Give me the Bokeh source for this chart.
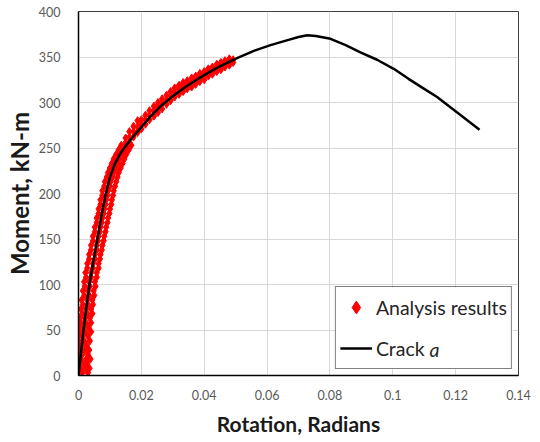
from bokeh.plotting import figure
from bokeh.models import Range1d, FixedTicker, Legend, LegendItem, BoxAnnotation
from bokeh.core.properties import value
from bokeh.embed import file_html
from bokeh.resources import INLINE

# Crack a curve (rotation in radians, moment in kN-m)
curve_rot = [0, 0.0008, 0.0016, 0.0025, 0.0035, 0.0047, 0.006, 0.0072, 0.0085, 0.0100,
             0.0115, 0.0130, 0.0143, 0.0170, 0.0200, 0.0230, 0.0265, 0.0300, 0.0340, 0.0385,
             0.0440, 0.0506, 0.0560, 0.0611, 0.0660, 0.0700, 0.0728, 0.0755, 0.0802, 0.0850,
             0.0897, 0.0950, 0.1003, 0.1050, 0.1100, 0.1141, 0.1205, 0.1276]
curve_mom = [0, 25, 50, 75, 100, 125, 150, 174, 197, 218,
             232, 242, 249, 261, 273, 285, 297, 307, 317, 327,
             338, 349, 357, 363, 368, 372, 374, 373, 370, 363,
             355, 347, 337, 326, 315, 306, 289, 270]

# Analysis results (scatter)
pts_rot = [
    -0.0002, 0.0012, 0.0030, 0.0005, 0.0022, 0.0035, 0.0000, 0.0015, 0.0028, 0.0008,
    0.0025, 0.0038, -0.0003, 0.0012, 0.0030, 0.0004, 0.0020, 0.0034, -0.0004, 0.0010,
    0.0026, 0.0002, 0.0018, 0.0036, -0.0002, 0.0012, 0.0030, 0.0006, 0.0022, 0.0040,
    0.0000, 0.0016, 0.0032, 0.0008, 0.0024, 0.0040, 0.0004, 0.0020, 0.0036, 0.0012,
    0.0028, 0.0044, 0.0008, 0.0024, 0.0040, 0.0014, 0.0030, 0.0046, 0.0010, 0.0028,
    0.0044, 0.0018, 0.0034, 0.0050, 0.0014, 0.0030, 0.0048, 0.0020, 0.0036, 0.0054,
    0.0018, 0.0034, 0.0052, 0.0024, 0.0040, 0.0058, 0.0022, 0.0040, 0.0058, 0.0028,
    0.0046, 0.0064, 0.0028, 0.0046, 0.0064, 0.0034, 0.0052, 0.0068, 0.0034, 0.0052,
    0.0070, 0.0040, 0.0058, 0.0074, 0.0040, 0.0058, 0.0076, 0.0046, 0.0062, 0.0080,
    0.0046, 0.0064, 0.0082, 0.0052, 0.0068, 0.0086, 0.0052, 0.0070, 0.0088, 0.0058,
    0.0074, 0.0092, 0.0058, 0.0076, 0.0094, 0.0064, 0.0080, 0.0098, 0.0064, 0.0082,
    0.0100, 0.0070, 0.0086, 0.0104, 0.0070, 0.0088, 0.0106, 0.0076, 0.0092, 0.0110,
    0.0076, 0.0094, 0.0112, 0.0082, 0.0100, 0.0116, 0.0084, 0.0102, 0.0120, 0.0090,
    0.0108, 0.0124, 0.0094, 0.0112, 0.0128, 0.0100, 0.0118, 0.0134, 0.0106, 0.0124,
    0.0140, 0.0112, 0.0130, 0.0146, 0.0120, 0.0138, 0.0152, 0.0128, 0.0146, 0.0160,
    0.0136, 0.0154, 0.0168,
    0.0150, 0.0150, 0.0150, 0.0162, 0.0162, 0.0162, 0.0175, 0.0175, 0.0175, 0.0188,
    0.0188, 0.0188, 0.0200, 0.0200, 0.0200, 0.0213, 0.0213, 0.0213, 0.0226, 0.0226,
    0.0226, 0.0240, 0.0240, 0.0240, 0.0253, 0.0253, 0.0253, 0.0266, 0.0266, 0.0266,
    0.0280, 0.0280, 0.0280, 0.0293, 0.0293, 0.0293, 0.0306, 0.0306, 0.0306, 0.0320,
    0.0320, 0.0320, 0.0333, 0.0333, 0.0333, 0.0346, 0.0346, 0.0346, 0.0360, 0.0360,
    0.0360, 0.0373, 0.0373, 0.0373, 0.0386, 0.0386, 0.0386, 0.0400, 0.0400, 0.0400,
    0.0413, 0.0413, 0.0413, 0.0426, 0.0426, 0.0426, 0.0440, 0.0440, 0.0440, 0.0453,
    0.0453, 0.0453, 0.0466, 0.0466, 0.0466, 0.0480, 0.0480, 0.0480, 0.0492, 0.0492]
pts_mom = [
    3, 3, 3, 8, 8, 8, 13, 13, 13, 18,
    18, 18, 23, 23, 23, 28, 28, 28, 33, 33,
    33, 38, 38, 38, 43, 43, 43, 48, 48, 48,
    53, 53, 53, 58, 58, 58, 63, 63, 63, 68,
    68, 68, 73, 73, 73, 78, 78, 78, 83, 83,
    83, 88, 88, 88, 93, 93, 93, 98, 98, 98,
    103, 103, 103, 108, 108, 108, 113, 113, 113, 118,
    118, 118, 123, 123, 123, 128, 128, 128, 133, 133,
    133, 138, 138, 138, 143, 143, 143, 148, 148, 148,
    153, 153, 153, 158, 158, 158, 163, 163, 163, 168,
    168, 168, 173, 173, 173, 178, 178, 178, 183, 183,
    183, 188, 188, 188, 193, 193, 193, 198, 198, 198,
    203, 203, 203, 208, 208, 208, 213, 213, 213, 218,
    218, 218, 223, 223, 223, 228, 228, 228, 233, 233,
    233, 238, 238, 238, 243, 243, 243, 248, 248, 248,
    253, 253, 253,
    250, 256, 261, 256, 262, 268, 262, 268, 274, 267,
    273, 280, 271, 276, 281, 276, 281, 286, 281, 286,
    291, 285, 291, 296, 289, 295, 300, 293, 299, 304,
    298, 303, 308, 302, 307, 312, 306, 311, 316, 309,
    314, 319, 312, 317, 322, 315, 320, 324, 317, 322,
    327, 320, 325, 329, 323, 327, 332, 325, 330, 334,
    329, 333, 337, 331, 335, 339, 334, 338, 342, 336,
    340, 344, 339, 342, 346, 341, 344, 348, 344, 347]

x_ticks = [0, 0.02, 0.04, 0.06, 0.08, 0.1, 0.12, 0.14]
x_tick_labels = ["0", "0.02", "0.04", "0.06", "0.08", "0.1", "0.12", "0.14"]
y_ticks = [0, 50, 100, 150, 200, 250, 300, 350, 400]

FONT = "Lato"

p = figure(width=540, height=442, output_backend="svg", toolbar_location=None,
           x_range=Range1d(0, 0.14), y_range=Range1d(0, 400),
           min_border_left=78, min_border_right=22, min_border_top=11, min_border_bottom=67)
p.background_fill_color = "white"
p.border_fill_color = "white"
p.outline_line_color = "#404040"
p.outline_line_width = 1

# white panel behind the legend (covers the grid lines there)
legend_bg = BoxAnnotation(left=0.0818, right=0.1381, bottom=6.6, top=96.7,
                          fill_color="white", fill_alpha=1, line_color=None,
                          level="underlay")
p.add_layout(legend_bg)

r1 = p.scatter(pts_rot, pts_mom, marker="diamond", size=8, color="#ff0000")
r2 = p.line(curve_rot, curve_mom, line_color="black", line_width=2.5)

for ax in (p.xaxis[0], p.yaxis[0]):
    ax.major_tick_line_color = None
    ax.minor_tick_line_color = None
    ax.axis_line_color = "black"
    ax.axis_line_width = 1.5
    ax.major_label_text_font = FONT
    ax.major_label_text_font_size = "12.5px"
    ax.major_label_text_color = "#595959"
    ax.axis_label_text_font = FONT
    ax.axis_label_text_font_style = "bold"
    ax.axis_label_text_color = "#1a1a1a"

p.xaxis.axis_label_text_font_size = "21px"
p.yaxis.axis_label_text_font_size = "24px"
p.xaxis.ticker = FixedTicker(ticks=x_ticks)
p.xaxis.major_label_overrides = {t: l for t, l in zip(x_ticks, x_tick_labels)}
p.yaxis.ticker = FixedTicker(ticks=y_ticks)
p.xaxis.axis_label = "Rotation, Radians"
p.yaxis.axis_label = "Moment, kN-m"
p.xaxis.major_label_standoff = 8
p.yaxis.major_label_standoff = 12
p.xaxis.axis_label_standoff = 8
p.yaxis.axis_label_standoff = 2

p.xgrid.ticker = FixedTicker(ticks=x_ticks)
p.ygrid.ticker = FixedTicker(ticks=y_ticks)
p.xgrid.grid_line_color = "#d9d9d9"
p.ygrid.grid_line_color = "#d9d9d9"
p.xgrid.grid_line_width = 1
p.ygrid.grid_line_width = 1

legend = Legend(items=[LegendItem(label="Analysis results", renderers=[r1]),
                       LegendItem(label="Crack", renderers=[r2])],
                location="bottom_right")
legend.margin = 6
legend.padding = 4
legend.spacing = 9
legend.glyph_width = 32
legend.glyph_height = 32
legend.label_standoff = 4
legend.label_text_font = FONT
legend.label_text_font_size = "19.5px"
legend.label_text_color = "#262626"
legend.border_line_color = "black"
legend.border_line_width = 1
legend.background_fill_alpha = 0
p.add_layout(legend)

# italic "a" that follows "Crack" in the legend
p.text(x=[0.1117], y=[28.6], text=["a"], text_font=value(FONT), text_font_size="19.5px",
       text_font_style="italic", text_color="#262626", text_baseline="middle",
       text_align="left")

open("out.html", "w").write(file_html(p, INLINE))
